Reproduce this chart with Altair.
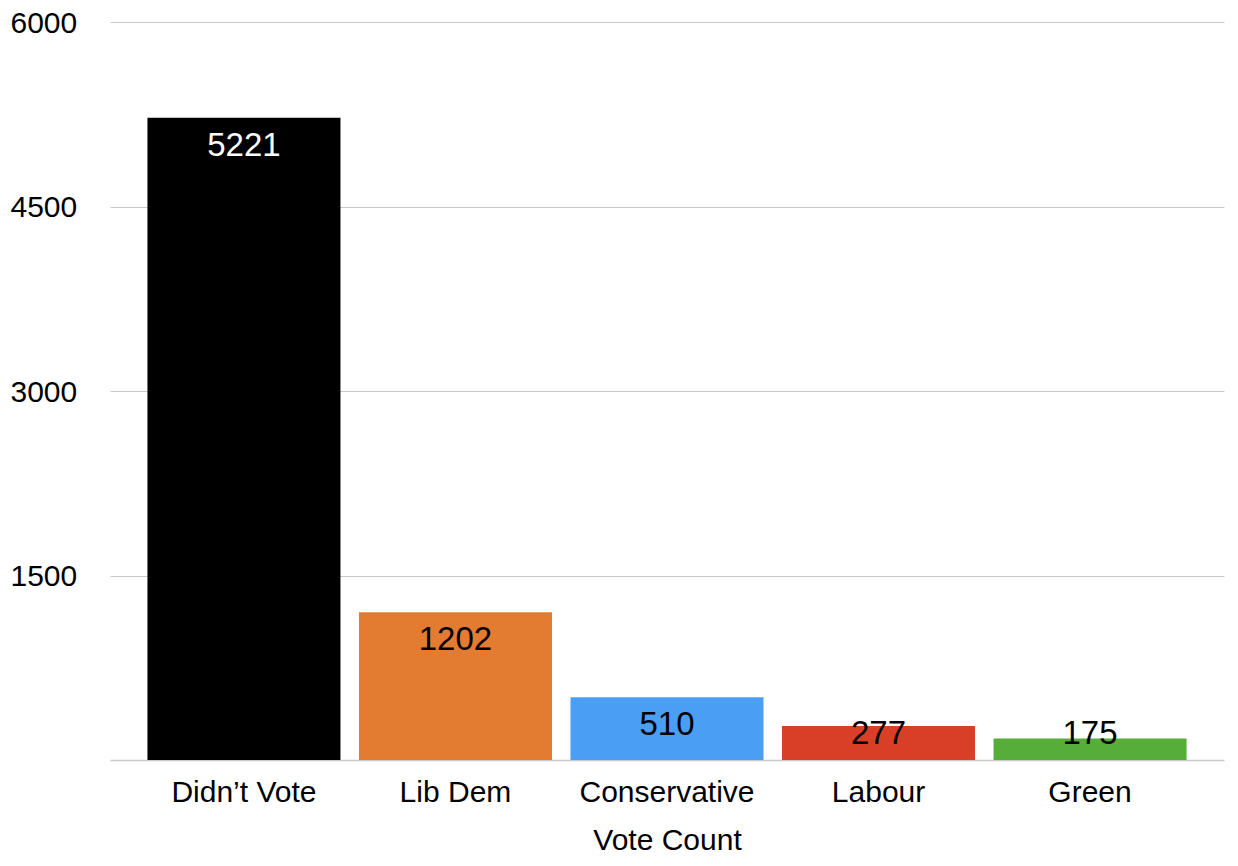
import altair as alt
import pandas as pd

categories = ["Didn\u2019t Vote", "Lib Dem", "Conservative", "Labour", "Green"]
votes = [5221, 1202, 510, 277, 175]
colors = ["#000000", "#E37B30", "#4A9FF5", "#D93E27", "#56AD3A"]
label_colors = ["#FFFFFF", "#000000", "#000000", "#000000", "#000000"]

df = pd.DataFrame({
    "party": categories,
    "votes": votes,
    "color": colors,
    "lcolor": label_colors,
})

FONT = "Liberation Sans"

x = alt.X(
    "party:N",
    sort=None,
    title="Vote Count",
    scale=alt.Scale(paddingInner=0.0875, paddingOuter=0.177),
    axis=alt.Axis(
        labelAngle=0,
        labelFontSize=30,
        labelFont=FONT,
        labelColor="#000000",
        labelPadding=17,
        titleFontSize=30,
        titleFont=FONT,
        titleFontWeight="normal",
        titleColor="#000000",
        titlePadding=18,
        ticks=False,
        domainColor="#C8C8C8",
        domainWidth=1.5,
        grid=False,
    ),
)

y = alt.Y(
    "votes:Q",
    title=None,
    scale=alt.Scale(domain=[0, 6000], nice=False),
    axis=alt.Axis(
        values=[1500, 3000, 4500, 6000],
        format="d",
        labelFontSize=30,
        labelFont=FONT,
        labelColor="#000000",
        labelAlign="left",
        labelPadding=100,
        labelOffset=1,
        ticks=False,
        domain=False,
        gridColor="#C8C8C8",
        gridWidth=1.2,
    ),
)

bars = alt.Chart(df).mark_bar().encode(
    x=x,
    y=y,
    color=alt.Color("color:N", scale=None, legend=None),
)

labels = alt.Chart(df).transform_calculate(
    lpos="max(datum.votes, 438)"
).mark_text(
    fontSize=33, font=FONT, baseline="middle", dy=28
).encode(
    x=alt.X("party:N", sort=None),
    y=alt.Y("lpos:Q"),
    text=alt.Text("votes:Q"),
    color=alt.Color("lcolor:N", scale=None, legend=None),
)

chart = alt.layer(bars, labels).properties(
    width=1114,
    height=738,
    autosize=alt.AutoSizeParams(type="none"),
    padding={"left": 102, "top": 14, "right": 6, "bottom": 100},
).configure_view(stroke=None)

chart.save("out.html", embed_options={"renderer": "svg", "actions": False})
